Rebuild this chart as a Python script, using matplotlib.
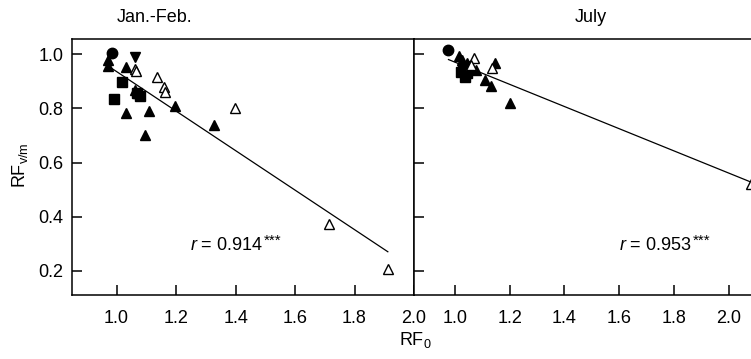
import matplotlib
matplotlib.use("Agg")
import matplotlib.pyplot as plt

plt.rcParams['font.family'] = ['Liberation Sans', 'DejaVu Sans']
plt.rcParams['mathtext.fontset'] = 'custom'
plt.rcParams['mathtext.rm'] = 'Liberation Sans'
plt.rcParams['mathtext.it'] = 'Liberation Sans:italic'

# Jan.-Feb. panel
jf_up_x = [0.972, 0.972, 1.032, 1.062, 1.073, 1.197, 1.032, 1.109, 1.096, 1.329]
jf_up_y = [0.978, 0.956, 0.954, 0.867, 0.859, 0.808, 0.783, 0.790, 0.703, 0.740]
jf_down_x = [1.062]
jf_down_y = [0.990]
jf_circ_x = [0.984]
jf_circ_y = [1.007]
jf_sq_x = [1.017, 0.992, 1.077, 1.070]
jf_sq_y = [0.899, 0.834, 0.846, 0.856]
jf_open_x = [1.062, 1.065, 1.135, 1.160, 1.162, 1.398, 1.715, 1.912]
jf_open_y = [0.947, 0.938, 0.916, 0.879, 0.861, 0.800, 0.374, 0.205]
jf_fit_x = [0.976, 1.912]
jf_fit_y = [0.954, 0.270]

# July panel
jul_up_x = [1.015, 1.027, 1.042, 1.146, 1.062, 1.076, 1.110, 1.131, 1.202, 1.050]
jul_up_y = [0.995, 0.981, 0.969, 0.969, 0.947, 0.944, 0.907, 0.883, 0.822, 0.958]
jul_circ_x = [0.976]
jul_circ_y = [1.015]
jul_sq_x = [1.022, 1.036, 1.045, 1.030]
jul_sq_y = [0.936, 0.916, 0.930, 0.945]
jul_open_x = [1.070, 1.135, 1.060, 2.080]
jul_open_y = [0.987, 0.948, 0.960, 0.520]
jul_fit_x = [0.976, 2.076]
jul_fit_y = [0.981, 0.530]

xticks = [1.0, 1.2, 1.4, 1.6, 1.8, 2.0]
yticks = [0.2, 0.4, 0.6, 0.8, 1.0]

fs = 13

fig = plt.figure(figsize=(7.51, 3.59), dpi=100)
ax1 = fig.add_axes([72/751, 1-295/359, 342/751, 256/359])
ax2 = fig.add_axes([414/751, 1-295/359, 342/751, 256/359])   # runs past the right edge, as in the source

ms = 7.5
for ax in (ax1, ax2):
    for s in ax.spines.values():
        s.set_linewidth(1.1)
    ax.tick_params(direction='in', length=7, width=1.1, labelsize=fs)
    ax.tick_params(axis='x', pad=11)
    ax.tick_params(axis='y', pad=6)
    ax.set_ylim(0.11, 1.057)
    ax.set_yticks(yticks)
    ax.set_xticks(xticks)
    ax.set_xticklabels([f"{v:.1f}" for v in xticks])

ax1.plot(jf_fit_x, jf_fit_y, color='black', lw=0.9)
ax1.plot(jf_up_x, jf_up_y, '^', color='black', ms=ms, ls='none')
ax1.plot(jf_down_x, jf_down_y, 'v', color='black', ms=ms, ls='none')
ax1.plot(jf_circ_x, jf_circ_y, 'o', color='black', ms=ms, ls='none')
ax1.plot(jf_sq_x, jf_sq_y, 's', color='black', ms=ms-1, ls='none')
ax1.plot(jf_open_x, jf_open_y, '^', mfc='white', mec='black', mew=1, ms=ms, ls='none')
ax1.set_xlim(0.85, 2.0)
ax1.set_yticklabels([f"{v:.1f}" for v in yticks])

ax2.plot(jul_fit_x, jul_fit_y, color='black', lw=0.9)
ax2.plot(jul_up_x, jul_up_y, '^', color='black', ms=ms, ls='none')
ax2.plot(jul_circ_x, jul_circ_y, 'o', color='black', ms=ms, ls='none')
ax2.plot(jul_sq_x, jul_sq_y, 's', color='black', ms=ms-1, ls='none')
ax2.plot(jul_open_x, jul_open_y, '^', mfc='white', mec='black', mew=1, ms=ms, ls='none')
ax2.set_xlim(0.85, 2.1)
ax2.set_yticklabels([])


def r_label(ax, x, val):
    t = ax.text(x, 0.195, r"$\mathit{r}$ = " + val, transform=ax.transAxes,
                ha='left', va='center', fontsize=fs)
    ax.annotate("***", xy=(1, 1), xycoords=t, xytext=(0.5, 2), textcoords='offset points',
                ha='left', va='top', fontsize=fs - 2)


r_label(ax1, 0.345, "0.914")
r_label(ax2, 0.60, "0.953")

fig.text(155/751, 1-17/359, "Jan.-Feb.", ha='center', va='center', fontsize=fs)
fig.text(591/751, 1-17/359, "July", ha='center', va='center', fontsize=fs)
fig.text(20/751, 1-165/359, r"RF$_{\mathregular{v/m}}$", rotation=90, ha='center', va='center', fontsize=fs)
fig.text(415/751, 1-340/359, r"RF$_{\mathregular{0}}$", ha='center', va='center', fontsize=fs)

fig.savefig("out.png", dpi=100)
